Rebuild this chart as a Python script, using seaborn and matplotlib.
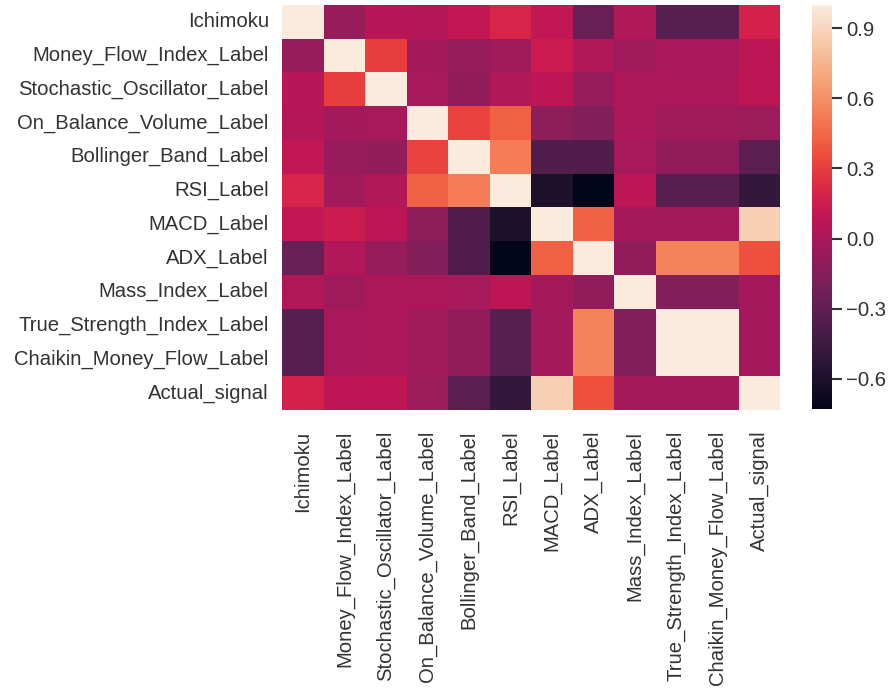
import matplotlib
matplotlib.use("Agg")
import matplotlib.pyplot as plt
import seaborn as sns
import pandas as pd

labels = ["Ichimoku", "Money_Flow_Index_Label", "Stochastic_Oscillator_Label",
          "On_Balance_Volume_Label", "Bollinger_Band_Label", "RSI_Label",
          "MACD_Label", "ADX_Label", "Mass_Index_Label",
          "True_Strength_Index_Label", "Chaikin_Money_Flow_Label", "Actual_signal"]

r_ichimoku = [1.00, -0.08, 0.05, 0.04, 0.10, 0.20, 0.09, -0.27, 0.03, -0.33, -0.33, 0.18]
r_mfi      = [-0.08, 1.00, 0.30, -0.03, -0.07, -0.04, 0.14, 0.03, -0.05, -0.01, -0.01, 0.08]
r_stoch    = [0.05, 0.30, 1.00, -0.02, -0.09, 0.03, 0.08, -0.08, 0.01, 0.01, 0.01, 0.08]
r_obv      = [0.04, -0.03, -0.02, 1.00, 0.32, 0.42, -0.11, -0.16, 0.01, -0.04, -0.04, -0.06]
r_bb       = [0.10, -0.07, -0.09, 0.32, 1.00, 0.53, -0.37, -0.37, -0.02, -0.10, -0.10, -0.32]
r_rsi      = [0.20, -0.04, 0.03, 0.42, 0.53, 1.00, -0.60, -0.73, 0.08, -0.33, -0.33, -0.50]
r_macd     = [0.09, 0.14, 0.08, -0.11, -0.37, -0.60, 1.00, 0.42, -0.03, -0.03, -0.03, 0.87]
r_adx      = [-0.27, 0.03, -0.08, -0.16, -0.37, -0.73, 0.42, 1.00, -0.10, 0.55, 0.55, 0.37]
r_mass     = [0.03, -0.05, 0.01, 0.01, -0.02, 0.08, -0.03, -0.10, 1.00, -0.16, -0.16, -0.03]
r_tsi      = [-0.33, -0.01, 0.01, -0.04, -0.10, -0.33, -0.03, 0.55, -0.16, 1.00, 1.00, -0.03]
r_cmf      = [-0.33, -0.01, 0.01, -0.04, -0.10, -0.33, -0.03, 0.55, -0.16, 1.00, 1.00, -0.03]
r_actual   = [0.18, 0.08, 0.08, -0.06, -0.32, -0.50, 0.87, 0.37, -0.03, -0.03, -0.03, 1.00]

cbar_ticks = [-0.6, -0.3, 0.0, 0.3, 0.6, 0.9]

rows = [r_ichimoku, r_mfi, r_stoch, r_obv, r_bb, r_rsi, r_macd, r_adx,
        r_mass, r_tsi, r_cmf, r_actual]
corr = pd.DataFrame(rows, index=labels, columns=labels)

sns.set_theme()
plt.rcParams["font.family"] = ["Liberation Sans", "DejaVu Sans"]
plt.rcParams["text.color"] = "#333333"
plt.rcParams["xtick.color"] = "#333333"
plt.rcParams["ytick.color"] = "#333333"

fig = plt.figure(figsize=(8.92, 6.88), dpi=100)
ax = fig.add_axes([282 / 892, 1 - 410 / 688, 498 / 892, 405 / 688])
cax = fig.add_axes([812 / 892, 1 - 409 / 688, 20 / 892, 404 / 688])
sns.heatmap(corr, ax=ax, cbar_ax=cax, cbar_kws={"ticks": cbar_ticks})
ax.tick_params(axis="y", labelsize=14.6)
ax.tick_params(axis="x", labelsize=14.6, pad=9)
cax.tick_params(axis="y", which="major", right=True, left=False, labelright=True,
                direction="out", length=7, width=1.5, colors="#333333",
                labelsize=14.6, pad=3)

fig.savefig("out.png", dpi=100)
